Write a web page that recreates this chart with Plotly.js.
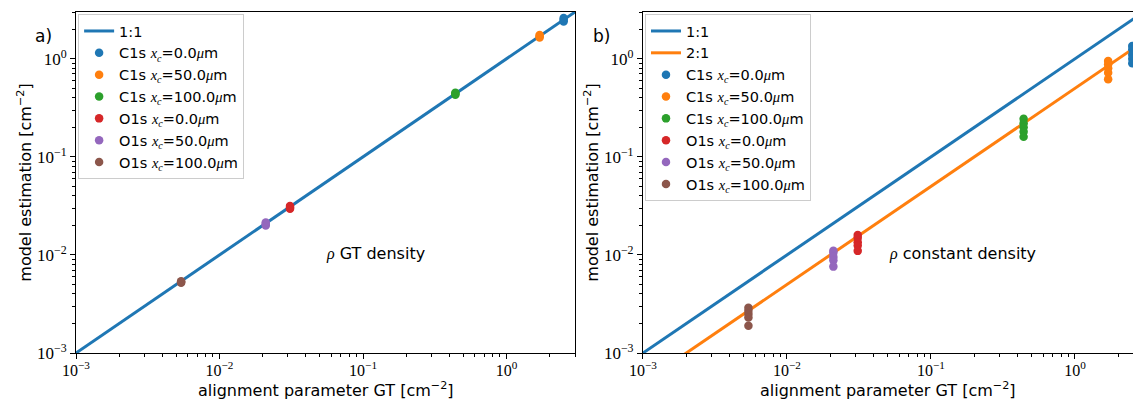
<!DOCTYPE html>
<html>
<head>
<meta charset="utf-8">
<script src="https://cdn.plot.ly/plotly-3.0.1.min.js"></script>
<style>html,body{margin:0;padding:0;background:#fff;}#chart{width:1133px;height:400px;}</style>
</head>
<body>
<div id="chart"></div>
<script>
// ---------- data ----------
const seriesLine = ["C1s", "C1s", "C1s", "O1s", "O1s", "O1s"];
const seriesXc = ["0.0", "50.0", "100.0", "0.0", "50.0", "100.0"];
// alignment parameter GT for each series
const gtValues = [2.5, 1.7, 0.44, 0.031, 0.021, 0.0054];

// panel a) model estimation with GT density
const aC1s0 = [2.4, 2.5, 2.6];
const aC1s50 = [1.65, 1.7, 1.75];
const aC1s100 = [0.43, 0.44, 0.45];
const aO1s0 = [0.0295, 0.0305, 0.0315];
const aO1s50 = [0.0200, 0.0207, 0.0214];
const aO1s100 = [0.0052, 0.0053, 0.0054];

// panel b) model estimation with constant density
const bC1s0 = [1.35, 1.25, 1.1, 1.0, 0.9];
const bC1s50 = [0.95, 0.88, 0.8, 0.72, 0.62];
const bC1s100 = [0.245, 0.22, 0.2, 0.18, 0.16];
const bO1s0 = [0.016, 0.015, 0.0135, 0.0125, 0.011];
const bO1s50 = [0.011, 0.0105, 0.0095, 0.0088, 0.0076];
const bO1s100 = [0.0029, 0.0027, 0.0025, 0.0023, 0.0019];

// reference lines
const lineX = [0.001, 3];
const line11Y = [0.001, 3];
const line21Y = [0.0005, 1.5];

const majorTicks = [0.001, 0.01, 0.1, 1];
const majorTickText = ["10<sup>−3</sup>", "10<sup>−2</sup>", "10<sup>−1</sup>", "10<sup>0</sup>"];
const xTitle = 'alignment parameter GT [cm<sup>−2</sup>]';
const yTitle = 'model estimation [cm<sup>−2</sup>]';

// ---------- styles ----------
const colors = ["#1f77b4", "#ff7f0e", "#2ca02c", "#d62728", "#9467bd", "#8c564b"];
const SERIF = "'Liberation Serif', 'DejaVu Serif', serif";
const SANS = "'DejaVu Sans', sans-serif";

function mathLabel(i) {
  const it = (s) => `<span style="font-family:Liberation Serif;font-style:italic">${s}</span>`;
  return `${seriesLine[i]} ${it('x')}<sub>${it('c')}</sub>=${seriesXc[i]}${it('μ')}m`;
}

const minorTicks = [];
[0.001, 0.01, 0.1, 1].forEach(d => { for (let k = 2; k <= 9; k++) minorTicks.push(d * k); });

const aSets = [aC1s0, aC1s50, aC1s100, aO1s0, aO1s50, aO1s100];
const bSets = [bC1s0, bC1s50, bC1s100, bO1s0, bO1s50, bO1s100];

const traces = [];
traces.push({x: lineX, y: line11Y, mode: 'lines', name: '1:1', line: {color: colors[0], width: 3},
  xaxis: 'x', yaxis: 'y', legend: 'legend'});
aSets.forEach((ys, i) => traces.push({
  x: ys.map(() => gtValues[i]), y: ys, mode: 'markers', name: mathLabel(i),
  marker: {color: colors[i], size: 8.5}, xaxis: 'x', yaxis: 'y', legend: 'legend'}));

traces.push({x: lineX, y: line11Y, mode: 'lines', name: '1:1', line: {color: colors[0], width: 3},
  xaxis: 'x2', yaxis: 'y2', legend: 'legend2'});
traces.push({x: lineX, y: line21Y, mode: 'lines', name: '2:1', line: {color: colors[1], width: 3},
  xaxis: 'x2', yaxis: 'y2', legend: 'legend2'});
bSets.forEach((ys, i) => traces.push({
  x: ys.map(() => gtValues[i]), y: ys, mode: 'markers', name: mathLabel(i),
  marker: {color: colors[i], size: 8.5}, xaxis: 'x2', yaxis: 'y2', legend: 'legend2'}));

function xAxis(domain, range, mirror) {
  return {
    type: 'log', domain: domain, range: range, showgrid: false, zeroline: false,
    showline: true, linecolor: '#000', linewidth: 1, mirror: mirror,
    ticks: 'outside', ticklen: 5, tickwidth: 1, tickcolor: '#000',
    tickmode: 'array', tickvals: majorTicks, ticktext: majorTickText,
    tickfont: {family: SERIF, size: 16, color: '#000'}, ticklabelstandoff: -2,
    minor: {ticks: 'outside', ticklen: 3, tickwidth: 1, tickcolor: '#000', tickvals: minorTicks, showgrid: false},
    automargin: false
  };
}
function yAxis(anchor, mirror) {
  return {
    type: 'log', anchor: anchor, range: [-3, Math.log10(3)], showgrid: false, zeroline: false,
    showline: true, linecolor: '#000', linewidth: 1, mirror: mirror,
    ticks: 'outside', ticklen: 5, tickwidth: 1, tickcolor: '#000',
    tickmode: 'array', tickvals: majorTicks, ticktext: majorTickText,
    tickfont: {family: SERIF, size: 17, color: '#000'},
    minor: {ticks: 'outside', ticklen: 3, tickwidth: 1, tickcolor: '#000', tickvals: minorTicks, showgrid: false},
    title: {text: yTitle, font: {family: SANS, size: 16, color: '#000'}},
    automargin: false
  };
}

const legendCommon = {
  xref: 'paper', yref: 'paper', xanchor: 'left', yanchor: 'top',
  bgcolor: 'rgba(255,255,255,0.85)', bordercolor: '#cccccc', borderwidth: 1,
  font: {family: SANS, size: 14.5, color: '#000'}, tracegroupgap: 0
};

const layout = {
  width: 1133, height: 400,
  margin: {l: 76, r: 0, t: 12, b: 47},
  paper_bgcolor: '#fff', plot_bgcolor: '#fff',
  showlegend: true,
  xaxis: xAxis([0, 0.4721], [-3, Math.log10(3)], true),
  yaxis: yAxis('x', true),
  xaxis2: xAxis([0.5364, 1], [-3, 0.403], true),
  yaxis2: yAxis('x2', false),
  legend: Object.assign({x: 0.002, y: 0.994}, legendCommon),
  legend2: Object.assign({x: 0.5383, y: 0.994}, legendCommon),
  annotations: [
    {text: xTitle, xref: 'paper', yref: 'paper', x: 0.2361, y: -0.1085, xanchor: 'center', yanchor: 'middle',
     showarrow: false, font: {family: SANS, size: 16, color: '#000'}},
    {text: xTitle, xref: 'paper', yref: 'paper', x: 0.7682, y: -0.1085, xanchor: 'center', yanchor: 'middle',
     showarrow: false, font: {family: SANS, size: 16, color: '#000'}},
    {text: 'a)', xref: 'paper', yref: 'paper', x: -0.0407, y: 0.965, showarrow: false,
     font: {family: SANS, size: 17, color: '#000'}},
    {text: 'b)', xref: 'paper', yref: 'paper', x: 0.4976, y: 0.965, showarrow: false,
     font: {family: SANS, size: 17, color: '#000'}},
    {text: `<span style="font-family:Liberation Serif;font-style:italic">ρ</span> GT density`,
     xref: 'x domain', yref: 'y domain', x: 0.60, y: 0.258, showarrow: false,
     font: {family: SANS, size: 16, color: '#000'}},
    {text: `<span style="font-family:Liberation Serif;font-style:italic">ρ</span> constant density`,
     xref: 'x2 domain', yref: 'y2 domain', x: 0.653, y: 0.258, showarrow: false,
     font: {family: SANS, size: 16, color: '#000'}}
  ]
};

Plotly.newPlot('chart', traces, layout, {displayModeBar: false, staticPlot: true});
</script>
</body>
</html>
